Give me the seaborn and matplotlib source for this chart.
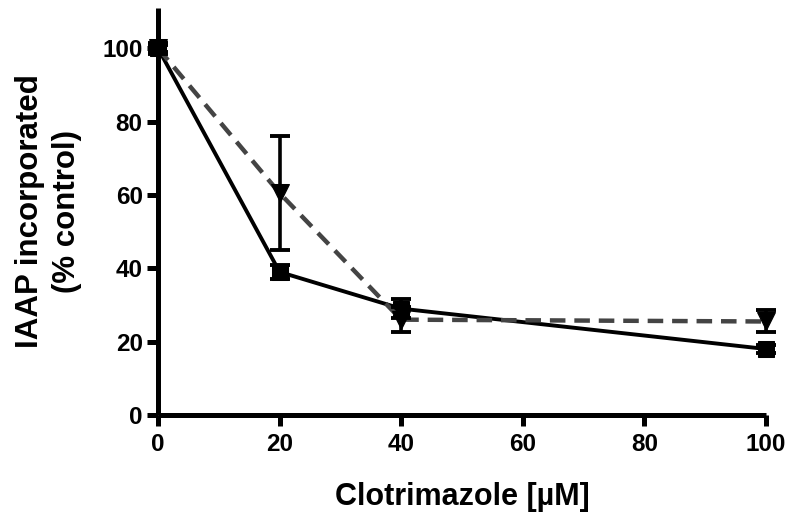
import matplotlib
matplotlib.use("Agg")
import matplotlib.pyplot as plt
import seaborn as sns
import pandas as pd

conc = [0, 20, 40, 100]
solid_mean = [100, 39, 29, 18]
solid_err = [1.5, 2.0, 2.5, 1.0]
dashed_mean = [100, 60.5, 26, 25.5]
dashed_err = [1.0, 15.5, 3.5, 3.0]

sns.set_theme(style="ticks")
plt.rcParams['font.family'] = ['Liberation Sans', 'DejaVu Sans']
plt.rcParams['font.weight'] = 'bold'
plt.rcParams['text.color'] = 'black'
plt.rcParams['axes.labelcolor'] = 'black'
plt.rcParams['xtick.labelcolor'] = 'black'
plt.rcParams['ytick.labelcolor'] = 'black'

fig = plt.figure(figsize=(8, 5.26), dpi=100)
ax = fig.add_axes([0.1975, 0.211, 0.76, 0.774])

df_s = pd.DataFrame({"x": conc, "y": solid_mean})
df_d = pd.DataFrame({"x": conc, "y": dashed_mean})

sns.lineplot(data=df_s, x="x", y="y", ax=ax, color="black", linewidth=2.8,
             marker="s", markersize=12, markeredgecolor="black", clip_on=False, zorder=3)
sns.lineplot(data=df_d, x="x", y="y", ax=ax, color="#444444", linewidth=3.2,
             marker="v", markersize=13, markerfacecolor="black", markeredgecolor="black",
             clip_on=False, zorder=4)
ax.lines[-1].set_dashes([3.5, 2.0])

ax.errorbar(conc, solid_mean, yerr=solid_err, fmt="none", ecolor="black",
            elinewidth=2.6, capsize=7, capthick=2.8, clip_on=False, zorder=5)
ax.errorbar(conc, dashed_mean, yerr=dashed_err, fmt="none", ecolor="black",
            elinewidth=2.6, capsize=7, capthick=2.8, clip_on=False, zorder=5)

ax.set_xlim(0, 100)
ax.set_ylim(0, 111)
ax.set_xticks([0, 20, 40, 60, 80, 100])
ax.set_yticks([0, 20, 40, 60, 80, 100])
ax.set_xlabel("Clotrimazole [µM]", fontsize=22, fontweight="bold", labelpad=19,
              color="black")
ax.set_ylabel("IAAP incorporated\n(% control)", fontsize=22.5, fontweight="bold",
              labelpad=15, linespacing=1.3, color="black")
for s in ["top", "right"]:
    ax.spines[s].set_visible(False)
for s in ["left", "bottom"]:
    ax.spines[s].set_linewidth(3.6)
    ax.spines[s].set_color("black")
    ax.spines[s].set_capstyle("butt")
ax.tick_params(axis="both", width=3.6, length=8, color="black", labelsize=17.5,
               labelcolor="black")
ax.tick_params(axis="x", pad=5)
ax.tick_params(axis="y", pad=3)
for lab in ax.get_xticklabels() + ax.get_yticklabels():
    lab.set_fontweight("bold")

fig.savefig("out.png", dpi=100)
